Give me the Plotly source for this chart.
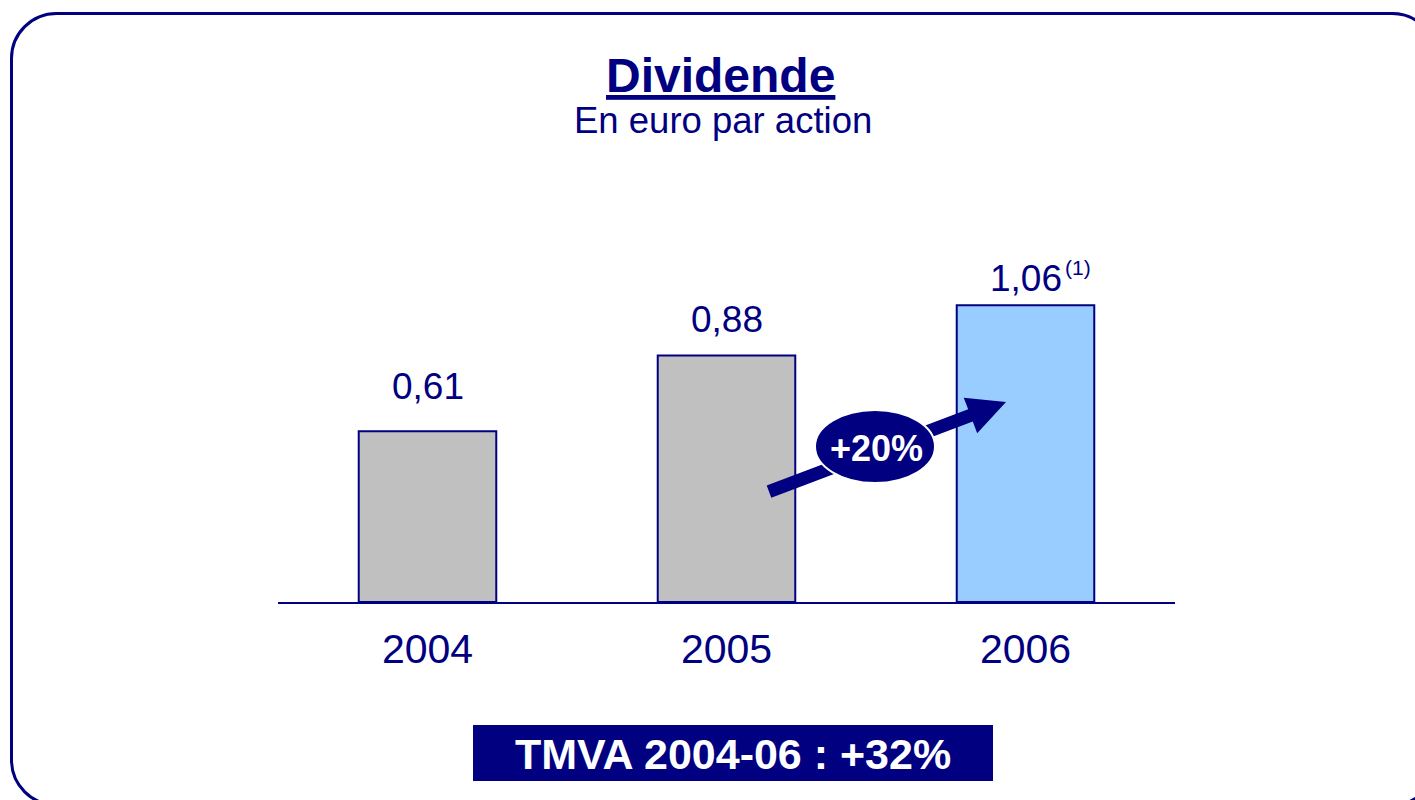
import plotly.graph_objects as go

# ---- data ----
years = ["2004", "2005", "2006"]
dividends = [0.61, 0.88, 1.06]
bar_colors = ["#C0C0C0", "#C0C0C0", "#99CCFF"]
notes = ["", "", "(1)"]
title_text = "Dividende"
subtitle_text = "En euro par action"
growth_text = "+20%"
cagr_text = "TMVA 2004-06 : +32%"

# ---- layout constants ----
NAVY = "#000080"
FONT = "Arial, 'Liberation Sans', sans-serif"
W, H = 1415, 800
ML, MR, MT, MB = 278, 240, 200, 198
PW, PH = W - ML - MR, H - MT - MB
PX_PER_UNIT = 280.0
label_lift = [44.7, 35.7, 26.3]
xpos = list(range(len(years)))


def px(x):
    return (x - ML) / PW


def py(y):
    return (H - MB - y) / PH


def pt(x, y):
    return f"{px(x):.5f},{py(y):.5f}"


fig = go.Figure()
fig.add_trace(go.Bar(
    x=xpos, y=dividends, width=0.46,
    marker=dict(color=bar_colors, line=dict(color=NAVY, width=2)),
    hoverinfo="skip", showlegend=False,
))

# value labels
annotations = []
for xi, v, lift, note in zip(xpos, dividends, label_lift, notes):
    annotations.append(dict(
        x=xi, y=v, xref="x", yref="y", text=f"{v:.2f}".replace(".", ","),
        showarrow=False, xanchor="center", yanchor="middle", yshift=lift,
        font=dict(family=FONT, size=37, color=NAVY),
    ))
    if note:
        annotations.append(dict(
            x=xi, y=v, xref="x", yref="y", text=note,
            showarrow=False, xanchor="left", yanchor="middle",
            xshift=37, yshift=38,
            font=dict(family=FONT, size=21, color=NAVY),
        ))


def paper_text(x, y, text, size, color, bold=False):
    return dict(
        x=px(x), y=py(y), xref="paper", yref="paper",
        text=f"<b>{text}</b>" if bold else text, showarrow=False,
        xanchor="center", yanchor="middle",
        font=dict(family=FONT, size=size, color=color),
    )


annotations.append(paper_text(720, 75.4, f"<u>{title_text}</u>", 48, NAVY, bold=True))
annotations.append(paper_text(722.5, 120.5, subtitle_text, 36.5, NAVY))
annotations.append(paper_text(876, 448.5, growth_text, 36, "white", bold=True))
annotations.append(paper_text(733, 753.5, cagr_text, 43, "white", bold=True))

shapes = []
# rounded frame
l, t, r, b, rad = 11.5, 13.5, 1437, 805, 45
k = 0.5523 * rad
frame = (
    f"M {pt(l, t + rad)} "
    f"C {pt(l, t + rad - k)} {pt(l + rad - k, t)} {pt(l + rad, t)} "
    f"L {pt(r - rad, t)} "
    f"C {pt(r - rad + k, t)} {pt(r, t + rad - k)} {pt(r, t + rad)} "
    f"L {pt(r, b - rad)} "
    f"C {pt(r, b - rad + k)} {pt(r - rad + k, b)} {pt(r - rad, b)} "
    f"L {pt(l + rad, b)} "
    f"C {pt(l + rad - k, b)} {pt(l, b - rad + k)} {pt(l, b - rad)} Z"
)
shapes.append(dict(type="path", xref="paper", yref="paper", path=frame,
                   line=dict(color=NAVY, width=3), fillcolor="rgba(0,0,0,0)",
                   layer="above"))

# growth arrow
tail = (769.0, 491.7)
tip = (1006.0, 402.0)
dx, dy = tip[0] - tail[0], tip[1] - tail[1]
ln = (dx * dx + dy * dy) ** 0.5
ux, uy = dx / ln, dy / ln
nx, ny = -uy, ux
sw, hw, hl = 6.5, 19.0, 38.0
bx, by = tip[0] - ux * hl, tip[1] - uy * hl
pts = [
    (tail[0] + nx * sw, tail[1] + ny * sw),
    (bx + nx * sw, by + ny * sw),
    (bx + nx * hw, by + ny * hw),
    tip,
    (bx - nx * hw, by - ny * hw),
    (bx - nx * sw, by - ny * sw),
    (tail[0] - nx * sw, tail[1] - ny * sw),
]
arrow = "M " + " L ".join(pt(*p) for p in pts) + " Z"
shapes.append(dict(type="path", xref="paper", yref="paper", path=arrow,
                   line=dict(width=0), fillcolor=NAVY, layer="above"))
# ellipse badge
shapes.append(dict(type="circle", xref="paper", yref="paper",
                   x0=px(815), x1=px(935), y0=py(483), y1=py(410),
                   fillcolor=NAVY, line=dict(color="white", width=2), layer="above"))
# CAGR box
shapes.append(dict(type="rect", xref="paper", yref="paper",
                   x0=px(473), x1=px(993), y0=py(781), y1=py(725),
                   fillcolor=NAVY, line=dict(width=0), layer="above"))

fig.update_layout(
    width=W, height=H,
    margin=dict(l=ML, r=MR, t=MT, b=MB, pad=0),
    paper_bgcolor="white", plot_bgcolor="white",
    font=dict(family=FONT, color=NAVY),
    showlegend=False,
    annotations=annotations,
    shapes=shapes,
    xaxis=dict(
        range=[-0.5, len(years) - 0.5],
        tickmode="array", tickvals=xpos, ticktext=years,
        showline=True, linecolor=NAVY, linewidth=2,
        ticks="", showgrid=False, zeroline=False,
        tickfont=dict(family=FONT, size=41, color=NAVY),
        ticklabelstandoff=10, fixedrange=True,
    ),
    yaxis=dict(range=[0, PH / PX_PER_UNIT], visible=False, fixedrange=True),
)

fig.write_html("out.html", config={"displayModeBar": False},
               post_script="document.body.style.margin='0';document.body.style.overflow='hidden';")
